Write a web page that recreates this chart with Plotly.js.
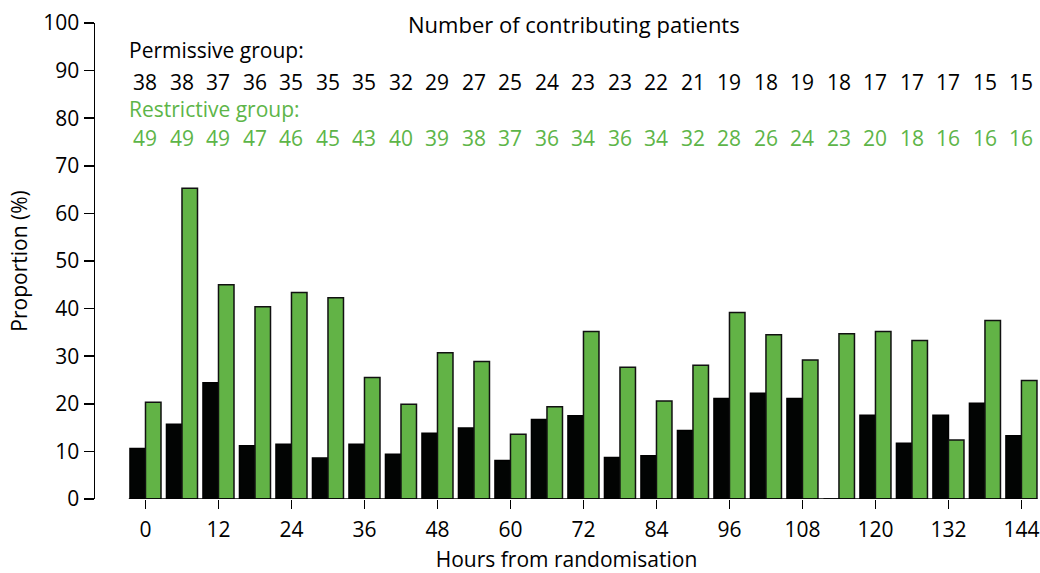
<!DOCTYPE html>
<html>
<head>
<meta charset="utf-8">
<script src="https://cdn.plot.ly/plotly-3.0.1.min.js"></script>
<style>html,body{margin:0;padding:0;background:#fff;}#chart{width:1040px;height:573px;}</style>
</head>
<body>
<div id="chart"></div>
<script>
const hours = [0,6,12,18,24,30,36,42,48,54,60,66,72,78,84,90,96,102,108,114,120,126,132,138,144];
const permissive = [10.6,15.7,24.4,11.2,11.5,8.6,11.5,9.4,13.8,14.9,8.1,16.7,17.5,8.7,9.1,14.4,21.1,22.2,21.1,0,17.6,11.7,17.6,20.1,13.3];
const restrictive = [20.3,65.3,45.0,40.4,43.4,42.3,25.5,19.9,30.7,28.9,13.6,19.4,35.2,27.7,20.6,28.1,39.2,34.5,29.2,34.7,35.2,33.3,12.4,37.5,24.9];
const permissiveN = [38,38,37,36,35,35,35,32,29,27,25,24,23,23,22,21,19,18,19,18,17,17,17,15,15];
const restrictiveN = [49,49,49,47,46,45,43,40,39,38,37,36,34,36,34,32,28,26,24,23,20,18,16,16,16];
const xTicks = [0,12,24,36,48,60,72,84,96,108,120,132,144];
const yTicks = [0,10,20,30,40,50,60,70,80,90,100];

const GREEN = '#62b346';
const GREEN_TEXT = '#5db548';
const FONT = 'Open Sans, sans-serif';
const FS = 21;

const traces = [
  {type:'bar', name:'Permissive', x:hours, y:permissive,
   marker:{color:'#020403', line:{color:'#000', width:1.5}}},
  {type:'bar', name:'Restrictive', x:hours, y:restrictive,
   marker:{color:GREEN, line:{color:'#111', width:1.5}}}
];

const annotations = [
  {text:'Number of contributing patients', x:70.4, y:99.8, xref:'x', yref:'y', showarrow:false, xanchor:'center', yanchor:'middle', font:{size:22, color:'#000', family:FONT}},
  {text:'Permissive group:', x:-3.1, y:94.3, xref:'x', yref:'y', showarrow:false, xanchor:'left', yanchor:'middle', font:{size:FS, color:'#000', family:FONT}},
  {text:'Restrictive group:', x:-3.1, y:81.9, xref:'x', yref:'y', showarrow:false, xanchor:'left', yanchor:'middle', font:{size:FS, color:GREEN_TEXT, family:FONT}}
];
hours.forEach((h,i)=>{
  annotations.push({text:String(permissiveN[i]), x:h, y:87.6, xref:'x', yref:'y', showarrow:false, xanchor:'center', yanchor:'middle', font:{size:FS, color:'#000', family:FONT}});
  annotations.push({text:String(restrictiveN[i]), x:h, y:75.8, xref:'x', yref:'y', showarrow:false, xanchor:'center', yanchor:'middle', font:{size:FS, color:GREEN_TEXT, family:FONT}});
});

const layout = {
  width:1040, height:573,
  margin:{l:95, r:2, t:23, b:74},
  paper_bgcolor:'#fff', plot_bgcolor:'#fff',
  barmode:'group', bargap:0.15, bargroupgap:0,
  showlegend:false,
  font:{family:FONT, size:FS, color:'#000'},
  xaxis:{range:[-8.30,146.72], tickvals:xTicks, ticktext:xTicks.map(String),
         ticks:'outside', ticklen:9, tickwidth:1.5, tickcolor:'#000',
         ticklabelstandoff:3,
         showline:false, showgrid:false, zeroline:false,
         tickfont:{size:FS, family:FONT, color:'#000'},
         title:{text:'Hours from randomisation', font:{size:FS, family:FONT, color:'#000'}, standoff:14}},
  yaxis:{range:[0,100], tickvals:yTicks, ticktext:yTicks.map(String),
         ticks:'outside', ticklen:10, tickwidth:1.5, tickcolor:'#000',
         showline:true, linewidth:1.5, linecolor:'#000',
         showgrid:false, zeroline:false,
         tickfont:{size:FS, family:FONT, color:'#000'},
         title:{text:'Proportion (%)', font:{size:FS, family:FONT, color:'#000'}, standoff:10}},
  shapes:[{type:'line', xref:'x', yref:'y', x0:-2.75, x1:146.6, y0:0, y1:0, line:{color:'#000', width:1.5}, layer:'above'}],
  annotations:annotations
};

Plotly.newPlot('chart', traces, layout, {displayModeBar:false, staticPlot:true});
</script>
</body>
</html>
